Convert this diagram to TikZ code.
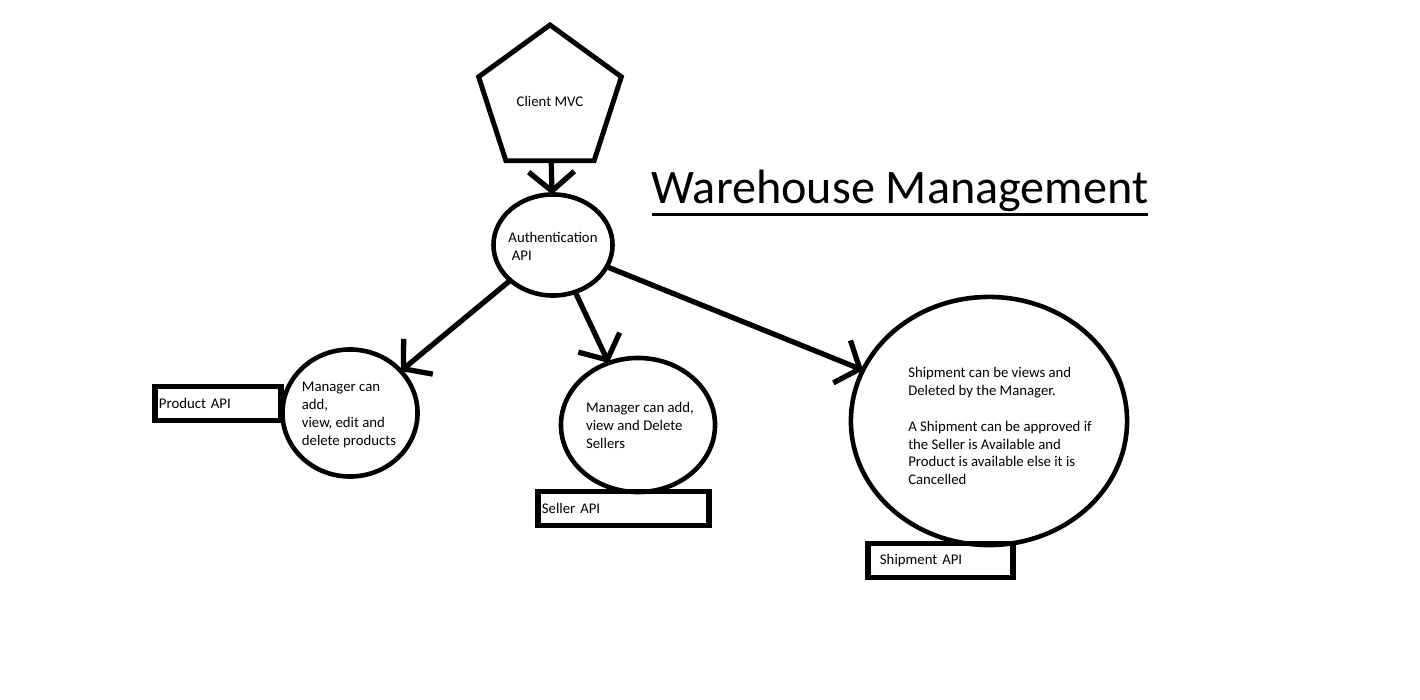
\documentclass[tikz,border=0pt]{standalone}
\usepackage{fontspec}
\setmainfont{Carlito}
\usetikzlibrary{shapes.geometric,arrows.meta}
\tikzset{
    bubble/.style={draw, ellipse, line width=1.3pt},
    txt/.style={font=\fontsize{4.2}{5.1}\selectfont, align=left},
    apibox/.style={txt, draw, rectangle, line width=1.5pt, minimum height=0.34cm, inner ysep=0pt},
    flow/.style={line width=1.5pt, -{Straight Barb[length=5.5pt,width=13pt]}}
}

\begin{document}
\begin{tikzpicture}[x=0.01cm,y=-0.01cm,every node/.style={inner sep=0,outer sep=0}]
\useasboundingbox (0,0) rectangle (1420,700);
% Client
\node[draw, regular polygon, regular polygon sides=5, minimum size=1.5cm, line width=1.4pt] (client) at (550,100) {};
\node[txt] (clienttxt) at (550,101) {Client MVC};
% Title
\node[font=\fontsize{13.7}{16}\selectfont] (title) at (900,191) {Warehouse Management};
\draw[line width=0.9pt] ([yshift=-3pt]title.base west) -- ([yshift=-3pt]title.base east);
%% Auth
\node[bubble, minimum width=1.19cm, minimum height=1.01cm] (auth) at (553,245) {};
\node[txt] (authtxt) at (553,246) {Authentication\\\ API};
% Products
\node[bubble, minimum width=1.35cm, minimum height=1.27cm] (prod) at (350,413) {};
\node[txt] (prodtxt) at (349,415) {Manager can\\add,\\view, edit and\\delete products};
\node[apibox, text width=1.18cm, inner xsep=0.04cm] (prodapi) at (218,403.5) {Product API};
% Sellers
\node[bubble, minimum width=1.54cm, minimum height=1.34cm] (sell) at (638,425) {};
\node[txt] (selltxt) at (640,425) {Manager can add,\\view and Delete\\Sellers};
\node[apibox, text width=1.63cm, inner xsep=0.04cm] (sellapi) at (623.5,508.5) {Seller API};
% Shipments
\node[bubble, minimum width=2.76cm, minimum height=2.48cm] (ship) at (989,421) {};
\node[txt] (shiptxt) at (1000,426) {Shipment can be views and\\Deleted by the Manager.\\[5.1pt]A Shipment can be approved if\\the Seller is Available and\\Product is available else it is\\Cancelled};
\node[apibox, text width=1.21cm, inner xsep=0.12cm] (shipapi) at (940.5,560.5) {Shipment API};
% Links
\draw[flow] (client) -- (auth);
\draw[flow] (auth) -- (prod);
\draw[flow] (auth) -- (sell);
\draw[flow] (auth) -- (ship);
\end{tikzpicture}
\end{document}
